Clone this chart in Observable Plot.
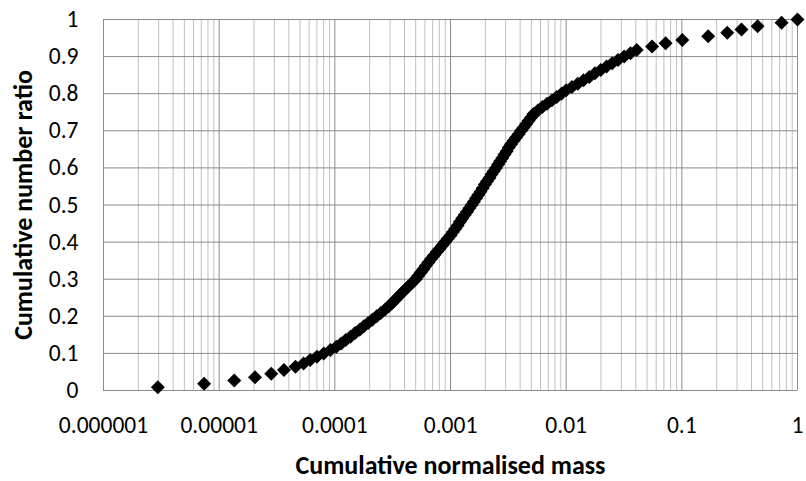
<!DOCTYPE html>
<html>
<head>
<meta charset="utf-8">
<script src="https://cdn.jsdelivr.net/npm/d3@7"></script>
<script src="https://cdn.jsdelivr.net/npm/@observablehq/plot@0.6"></script>
<style>
  html, body { margin: 0; padding: 0; background: #fff; }
  #chart svg { display: block; }
</style>
</head>
<body>
<div id="chart"></div>
<script>
// Cumulative normalised mass (x) and cumulative number ratio (y)
const mass = [
  2.95e-6, 7.41e-6, 1.35e-5, 2.04e-5, 2.82e-5, 3.63e-5, 4.57e-5, 5.37e-5, 6.12e-5, 7.00e-5,
  8.02e-5, 9.16e-5, 1.03e-4, 1.135e-4, 1.245e-4, 1.365e-4, 1.496e-4, 1.64e-4, 1.78e-4, 1.94e-4,
  2.11e-4, 2.30e-4, 2.50e-4, 2.72e-4, 2.93e-4, 3.13e-4, 3.35e-4, 3.58e-4, 3.83e-4, 4.09e-4,
  4.38e-4, 4.68e-4, 5.01e-4, 5.27e-4, 5.53e-4, 5.82e-4, 6.12e-4, 6.44e-4, 6.81e-4, 7.19e-4,
  7.60e-4, 8.04e-4, 8.49e-4, 8.97e-4, 9.46e-4, 1.00e-3, 1.05e-3, 1.10e-3, 1.153e-3, 1.208e-3,
  1.265e-3, 1.327e-3, 1.39e-3, 1.455e-3, 1.524e-3, 1.592e-3, 1.663e-3, 1.738e-3, 1.816e-3, 1.897e-3,
  1.982e-3, 2.07e-3, 2.17e-3, 2.26e-3, 2.36e-3, 2.47e-3, 2.58e-3, 2.69e-3, 2.81e-3, 2.93e-3,
  3.06e-3, 3.19e-3, 3.34e-3, 3.51e-3, 3.69e-3, 3.88e-3, 4.07e-3, 4.29e-3, 4.51e-3, 4.73e-3,
  4.98e-3, 5.22e-3, 5.70e-3, 6.22e-3, 6.84e-3, 7.52e-3, 8.28e-3, 9.10e-3, 0.0100, 0.01122,
  0.01259, 0.01413, 0.01585, 0.01774, 0.0199, 0.02234, 0.025, 0.02805, 0.0317, 0.036,
  0.0407, 0.0553, 0.0724, 0.101, 0.169, 0.247, 0.328, 0.452, 0.728, 1.0
];
const ratio = [
  0.009, 0.018, 0.027, 0.036, 0.045, 0.055, 0.064, 0.073, 0.082, 0.091,
  0.100, 0.109, 0.118, 0.127, 0.136, 0.145, 0.155, 0.164, 0.173, 0.182,
  0.191, 0.200, 0.209, 0.218, 0.227, 0.236, 0.245, 0.255, 0.264, 0.273,
  0.282, 0.291, 0.300, 0.309, 0.318, 0.327, 0.336, 0.345, 0.355, 0.364,
  0.373, 0.382, 0.391, 0.400, 0.409, 0.418, 0.427, 0.436, 0.445, 0.455,
  0.464, 0.473, 0.482, 0.491, 0.500, 0.509, 0.518, 0.527, 0.536, 0.545,
  0.555, 0.564, 0.573, 0.582, 0.591, 0.600, 0.609, 0.618, 0.627, 0.636,
  0.645, 0.655, 0.664, 0.673, 0.682, 0.691, 0.700, 0.709, 0.718, 0.727,
  0.736, 0.745, 0.755, 0.764, 0.773, 0.782, 0.791, 0.800, 0.809, 0.818,
  0.827, 0.836, 0.845, 0.855, 0.864, 0.873, 0.882, 0.891, 0.900, 0.909,
  0.918, 0.927, 0.936, 0.945, 0.955, 0.964, 0.973, 0.982, 0.991, 1.000
];
const xTicks = [0.000001, 0.00001, 0.0001, 0.001, 0.01, 0.1, 1];
const xTickLabels = ["0.000001", "0.00001", "0.0001", "0.001", "0.01", "0.1", "1"];
const yTicks = [0, 0.1, 0.2, 0.3, 0.4, 0.5, 0.6, 0.7, 0.8, 0.9, 1];
const yTickLabels = ["0", "0.1", "0.2", "0.3", "0.4", "0.5", "0.6", "0.7", "0.8", "0.9", "1"];
const xLabel = "Cumulative normalised mass";
const yLabel = "Cumulative number ratio";

const points = mass.map((m, i) => ({mass: m, ratio: ratio[i]}));
const minorTicks = xTicks.slice(0, -1).flatMap(d => [2, 3, 4, 5, 6, 7, 8, 9].map(k => d * k));

const FONT = "Carlito, Lato, 'Open Sans', sans-serif";

const chart = Plot.plot({
  width: 806,
  height: 481,
  marginLeft: 103,
  marginRight: 9,
  marginTop: 19,
  marginBottom: 91,
  style: {fontFamily: FONT, color: "#000", background: "#fff"},
  x: {type: "log", domain: [1e-6, 1], axis: null},
  y: {domain: [0, 1], axis: null},
  marks: [
    Plot.ruleX(minorTicks, {stroke: "#c0c0c0", strokeWidth: 1}),
    Plot.ruleY(yTicks, {stroke: "#8c8c8c", strokeWidth: 1}),
    Plot.ruleX(xTicks, {stroke: "#8c8c8c", strokeWidth: 1}),
    // x tick labels
    Plot.text(xTicks, {
      x: d => d,
      text: (d, i) => xTickLabels[i],
      frameAnchor: "bottom",
      lineAnchor: "middle",
      dy: 35,
      fontSize: 23.5,
      fill: "#000"
    }),
    // y tick labels
    Plot.text(yTicks, {
      y: d => d,
      text: (d, i) => yTickLabels[i],
      frameAnchor: "left",
      textAnchor: "end",
      dx: -25,
      fontSize: 23.5,
      fill: "#000"
    }),
    // axis titles
    Plot.text([xLabel], {
      text: d => d,
      frameAnchor: "bottom",
      textAnchor: "middle",
      lineAnchor: "middle",
      dy: 75,
      fontSize: 26,
      fontWeight: "bold",
      fill: "#000"
    }),
    Plot.text([yLabel], {
      text: d => d,
      frameAnchor: "left",
      textAnchor: "middle",
      lineAnchor: "middle",
      rotate: -90,
      dx: -80,
      fontSize: 26,
      fontWeight: "bold",
      fill: "#000"
    }),
    Plot.dot(points, {x: "mass", y: "ratio", symbol: "diamond2", r: 6.3, fill: "#000", stroke: "none"})
  ]
});

document.getElementById("chart").appendChild(chart);
</script>
</body>
</html>
